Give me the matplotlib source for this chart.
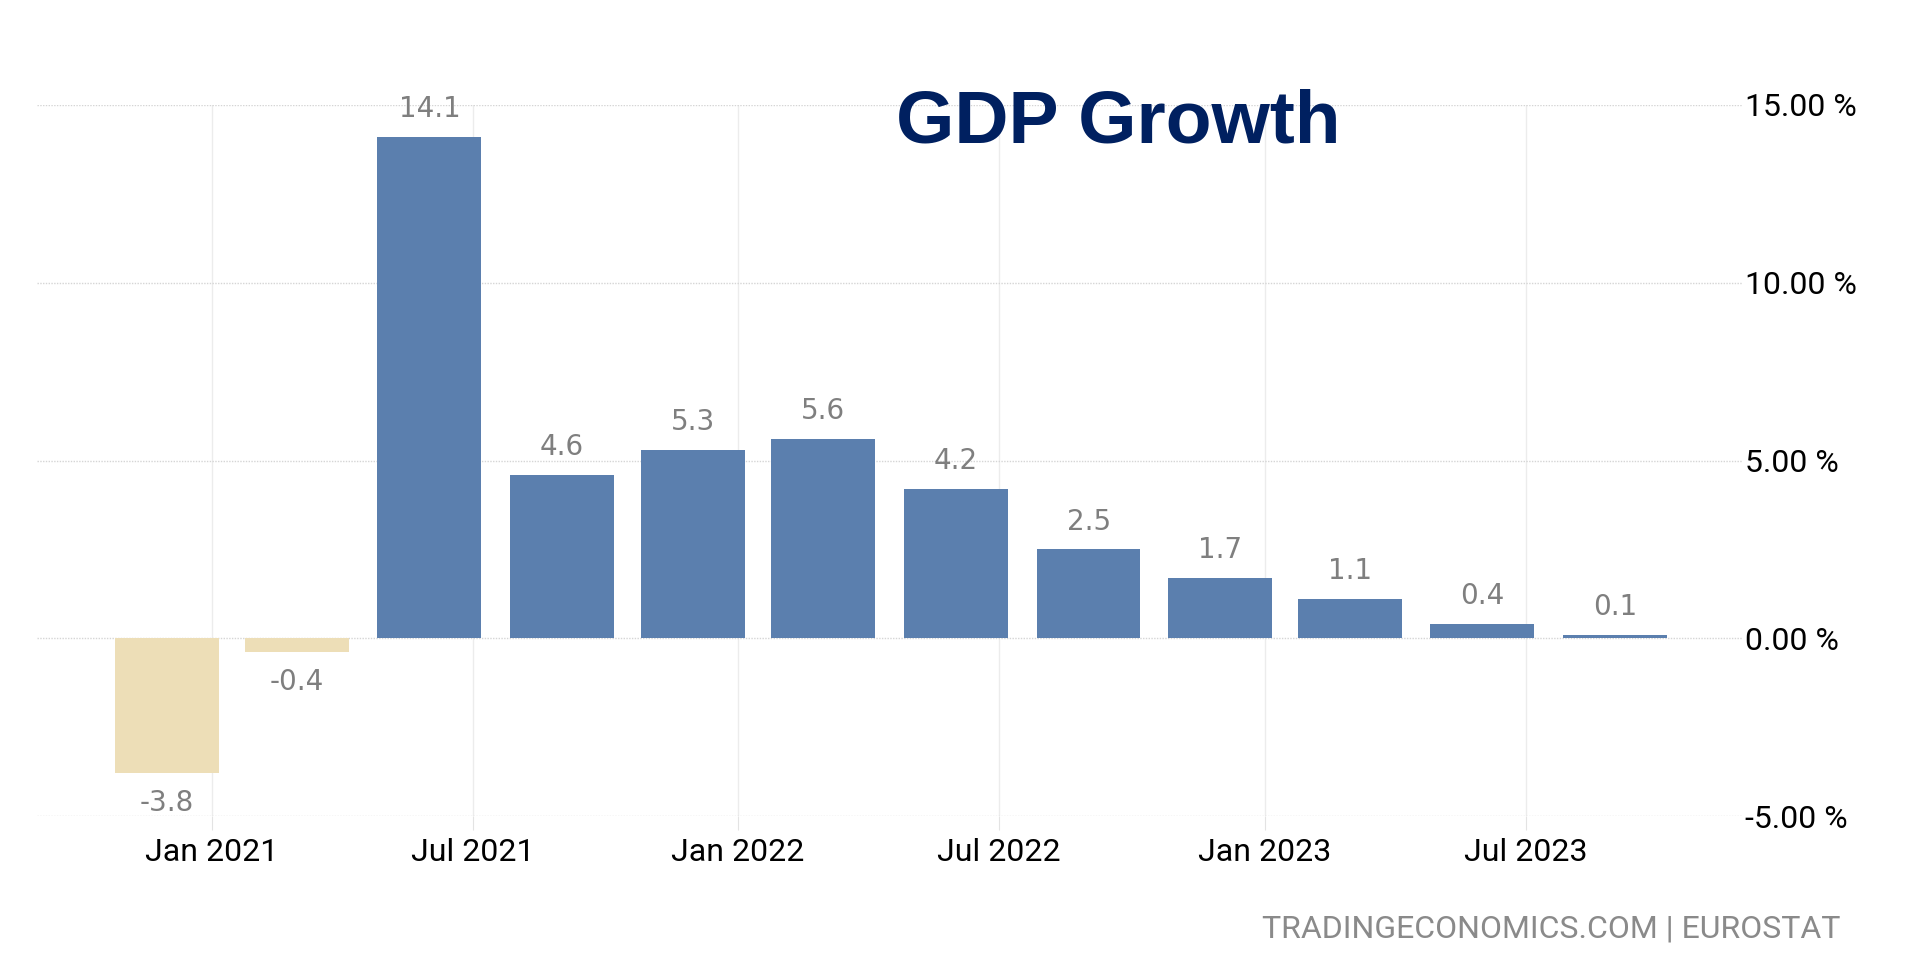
import pandas as pd
import matplotlib
matplotlib.use("Agg")
import matplotlib.pyplot as plt
from matplotlib.ticker import FuncFormatter

# quarterly GDP growth (YoY, %)
quarters = pd.to_datetime(["2020-12-01", "2021-03-01", "2021-06-01", "2021-09-01",
                           "2021-12-01", "2022-03-01", "2022-06-01", "2022-09-01",
                           "2022-12-01", "2023-03-01", "2023-06-01", "2023-09-01"])
growth = [-3.8, -0.4, 14.1, 4.6, 5.3, 5.6, 4.2, 2.5, 1.7, 1.1, 0.4, 0.1]
tick_dates = pd.to_datetime(["2021-01-01", "2021-07-01", "2022-01-01",
                             "2022-07-01", "2023-01-01", "2023-07-01"])
tick_labels = ["Jan 2021", "Jul 2021", "Jan 2022", "Jul 2022", "Jan 2023", "Jul 2023"]
y_ticks = [-5, 0, 5, 10, 15]

narrow = ["Roboto", "DejaVu Sans"]
blue = "#5b7fae"
sand = "#eddeb7"

fig = plt.figure(figsize=(19.21, 9.57), dpi=100)
ax = fig.add_axes([0.0193, 0.1473, 0.8875, 0.743])

colors = [blue if v >= 0 else sand for v in growth]
ax.bar(quarters, growth, width=72, color=colors, zorder=2)

for d, v in zip(quarters, growth):
    if v >= 0:
        ax.annotate(f"{v:.1f}", (d, v), xytext=(0, 10), textcoords="offset points",
                    ha="center", va="bottom", fontsize=20, color="#7f7f7f",
                    family=["DejaVu Sans"], clip_on=False)
    else:
        ax.annotate(f"{v:.1f}", (d, v), xytext=(0, -11), textcoords="offset points",
                    ha="center", va="top", fontsize=20, color="#7f7f7f",
                    family=["DejaVu Sans"], clip_on=False)

ax.set_xlim(pd.Timestamp("2021-01-01") - pd.Timedelta(days=121),
            pd.Timestamp("2021-01-01") + pd.Timedelta(days=1061))
ax.set_ylim(-5, 15)

ax.set_xticks(tick_dates)
ax.set_xticklabels(tick_labels, family=narrow, fontsize=23)
ax.set_yticks(y_ticks)
ax.yaxis.set_major_formatter(FuncFormatter(lambda v, p: f"{v:.2f} %"))
ax.yaxis.tick_right()
for lbl in ax.get_yticklabels():
    lbl.set_family(narrow)
    lbl.set_fontsize(23)

ax.tick_params(axis="y", length=0, pad=2, colors="black")
ax.tick_params(axis="x", length=10, color="#e3e3e3", pad=6)
ax.grid(axis="y", linestyle=(0, (1, 1)), color="#d5d5d5", linewidth=1, zorder=0)
ax.grid(axis="x", linestyle="-", color="#ececec", linewidth=1, zorder=0)
for s in ax.spines.values():
    s.set_visible(False)

fig.text(0.582, 0.871, "GDP Growth", ha="center", va="center", fontsize=54,
         fontweight="bold", color="#002060", family=["Liberation Sans", "DejaVu Sans"])
fig.text(0.958, 0.029, "TRADINGECONOMICS.COM | EUROSTAT", ha="right", va="center",
         fontsize=23, color="#8a8a8a", family=narrow)

fig.savefig("out.png", dpi=100)
